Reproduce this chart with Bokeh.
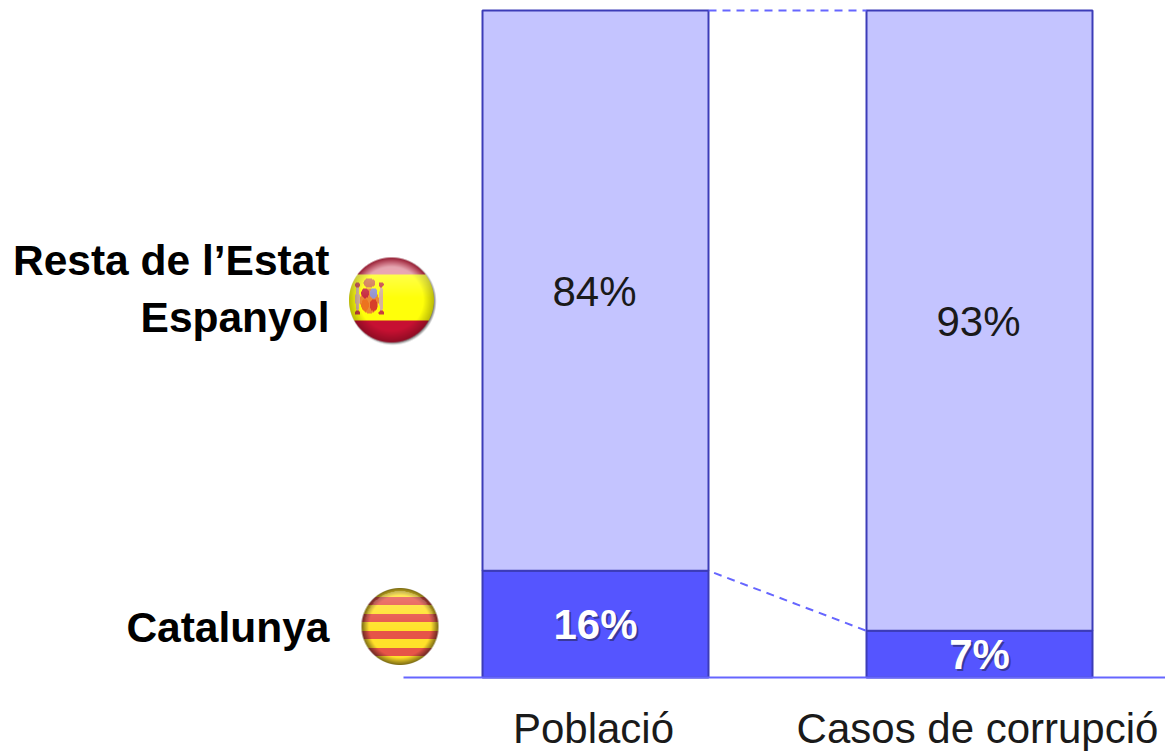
import numpy as np
from bokeh.plotting import figure
from bokeh.embed import file_html
from bokeh.resources import INLINE
from bokeh.core.properties import value
from bokeh.models import ColumnDataSource, FixedTicker, LinearAxis

# ---- data
categories = ["Població", "Casos de corrupció"]
catalunya = [16, 7]
resta = [84, 93]
region_labels = ["Resta de l’Estat\nEspanyol", "Catalunya"]
region_midpoints = [58, 8]

FONT = "Liberation Sans"
DARK = "#5555ff"
LIGHT = "#c4c4ff"
EDGE = "#3c3cb8"
LINE = "#6666ff"

W, H = 1165, 751
PX_X, PX_Y = 384.0, 6.67          # pixels per data unit
BAR_W = 226 / PX_X
x_pos = [0, 1]

p = figure(width=W, height=H, output_backend="svg", toolbar_location=None,
           x_range=(-595 / PX_X, 570 / PX_X), y_range=(-74 / PX_Y, 677 / PX_Y),
           y_axis_location=None, x_axis_location=None, min_border=0,
           outline_line_color=None,
           background_fill_color="white", border_fill_color="white")
p.grid.visible = False


def sphere(kind, r):
    """Raster of a glossy round flag with a soft drop shadow."""
    n = int(2 * r + 8)
    c = (n - 1) / 2
    yy, xx = np.mgrid[0:n, 0:n]
    u = (xx - c) / r
    v = (c - yy) / r          # +1 is the top of the flag
    d = np.sqrt(u * u + v * v)
    rgb = np.zeros((n, n, 3))
    if kind == "es":
        rgb[:] = (250, 250, 10)
        rgb[v > 0.6] = (188, 20, 50)
        rgb[v < -0.49] = (190, 16, 48)

        def blob(cx, cy, rx, ry, col):
            m = ((u - cx) / rx) ** 2 + ((v - cy) / ry) ** 2 < 1
            rgb[m] = col
        blob(-0.52, -0.02, 0.22, 0.30, (225, 130, 50))
        blob(-0.62, 0.16, 0.09, 0.12, (190, 40, 60))
        blob(-0.42, 0.16, 0.09, 0.12, (140, 140, 200))
        blob(-0.62, -0.12, 0.09, 0.14, (225, 110, 30))
        blob(-0.42, -0.12, 0.09, 0.14, (205, 60, 40))
        blob(-0.52, 0.40, 0.14, 0.11, (200, 110, 70))
        blob(-0.80, 0.03, 0.05, 0.30, (205, 170, 150))
        blob(-0.24, 0.03, 0.05, 0.30, (205, 170, 150))
        blob(-0.80, 0.36, 0.06, 0.06, (190, 60, 60))
        blob(-0.24, 0.36, 0.06, 0.06, (190, 60, 60))
        blob(-0.80, -0.30, 0.07, 0.05, (190, 60, 60))
        blob(-0.24, -0.30, 0.07, 0.05, (190, 60, 60))
        light = np.clip(1.05 - 0.30 * np.clip(d - 0.72, 0, 1) / 0.28, 0, 1.1)
        gloss = np.clip((v - 0.05) / 0.9, 0, 1) * 0.42
        gloss[v > 0.6] = np.clip(0.62 - (d[v > 0.6] - 0.78) * 2.6, 0.05, 0.62)
    else:
        idx = np.floor((1 - v) / 2 * 9).astype(int).clip(0, 8)
        rgb[:] = (255, 226, 40)
        rgb[idx % 2 == 1] = (222, 72, 72)
        rgb = 0.9 * rgb + 0.1 * rgb.mean(axis=(0, 1))
        light = np.clip(1.03 - 0.55 * np.clip(d - 0.80, 0, 1) / 0.20, 0, 1.1)
        gloss = np.clip((v + 0.1) / 1.0, 0, 1) * 0.24 * (d < 0.92)
    rgb = rgb * light[..., None]
    rgb = rgb + (255 - rgb) * gloss[..., None]
    alpha = np.clip(r * (1 - d) + 0.5, 0, 1)
    sd = np.sqrt((xx - c - 1.2) ** 2 + (yy - c - 1.2) ** 2)
    sh = np.clip((r + 1.5 - sd) / 3, 0, 1) * (0.55 if kind == "es" else 0.0)
    out_a = alpha + sh * (1 - alpha)
    out_rgb = rgb * (alpha / np.maximum(out_a, 1e-6))[..., None]
    img = np.zeros((n, n, 4), dtype=np.uint8)
    img[..., :3] = np.clip(out_rgb, 0, 255)
    img[..., 3] = np.clip(out_a * 255, 0, 255)
    packed = img.view(np.uint32).reshape(n, n)
    return packed[::-1], n


# ---- bars
src = ColumnDataSource(dict(x=x_pos, cat=catalunya,
                            tot=[a + b for a, b in zip(catalunya, resta)]))
p.vbar(x="x", width=BAR_W, bottom=0, top="cat", source=src,
       fill_color=DARK, line_color=EDGE, line_width=2)
p.vbar(x="x", width=BAR_W, bottom="cat", top="tot", source=src,
       fill_color=LIGHT, line_color=EDGE, line_width=2)

# ---- dashed connectors
x0, x1 = x_pos[0] + BAR_W / 2, x_pos[1] - BAR_W / 2
tops = [catalunya[i] + resta[i] for i in range(2)]
p.line([x0, x1], [tops[0], tops[1]], line_color=LINE, line_width=2, line_dash="8 6")
p.line([x0, x1], [catalunya[0], catalunya[1]], line_color=LINE, line_width=2,
       line_dash="8 6", line_dash_offset=8)

# ---- value labels
resta_mid = [catalunya[i] + resta[i] / 2 for i in range(2)]
cat_mid = [catalunya[i] / 2 for i in range(2)]
p.text(x_pos, resta_mid, text=[f"{v}%" for v in resta], text_font=value(FONT),
       text_font_size="42px", text_color="#1a1a1a", text_align="center",
       text_baseline="middle", x_offset=-1, y_offset=1)
for col, off in (("#30307a", 2), ("#ffffff", 0)):
    p.text(x_pos, cat_mid, text=[f"{v}%" for v in catalunya], text_font=value(FONT),
           text_font_size="42px", text_font_style="bold", text_color=col,
           text_alpha=0.75 if off else 1, text_align="center", text_baseline="middle",
           x_offset=off, y_offset=off)

# ---- region labels
p.text([-266 / PX_X] * 2, region_midpoints, text=region_labels, text_font=value(FONT),
       text_font_size="42.5px", text_font_style="bold", text_color="#000000",
       text_align="right", text_baseline="middle", text_line_height=1.21, y_offset=[-2, 3])

# ---- flags
for kind, cx, cy, r in (("es", 391, 299.5, 42.5), ("ca", 399.5, 626, 38.5)):
    im, n = sphere(kind, r)
    p.image_rgba(image=[im], x=[(cx - n / 2 - 595) / PX_X], y=[(677 - cy - n / 2) / PX_Y],
                 dw=[n / PX_X], dh=[n / PX_Y])

# ---- baseline axis with the category labels
label_ticks = [x - 2 / PX_X for x in x_pos]
ax = LinearAxis(ticker=FixedTicker(ticks=label_ticks),
                major_label_overrides={t: c for t, c in zip(label_ticks, categories)},
                bounds=(-192 / PX_X, 570 / PX_X), fixed_location=0,
                axis_line_color=LINE, axis_line_width=2,
                major_tick_line_color=None, minor_tick_line_color=None,
                major_label_text_font=FONT, major_label_text_font_size="42px",
                major_label_text_color="#1a1a1a", major_label_standoff=21)
p.add_layout(ax, "below")

open("out.html", "w").write(file_html(p, INLINE))
